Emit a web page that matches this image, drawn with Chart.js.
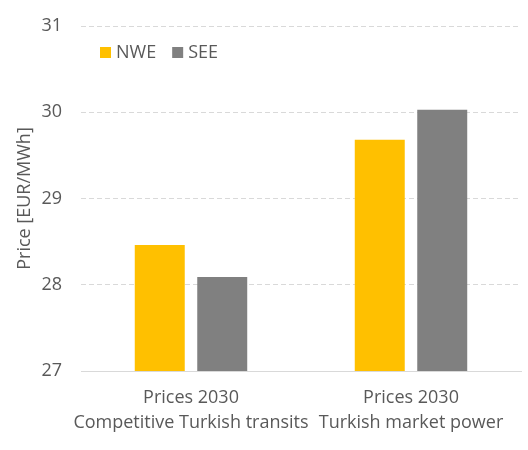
<!DOCTYPE html>
<html>
<head>
<meta charset="utf-8">
<script src="https://cdn.jsdelivr.net/npm/chart.js@4.4.1/dist/chart.umd.min.js"></script>
<style>
  html, body { margin: 0; padding: 0; background: #ffffff; }
  #wrap { width: 528px; height: 450px; position: relative; }
</style>
</head>
<body>
<div id="wrap"><canvas id="c" width="528" height="450"></canvas></div>
<script>
// Price scenarios for 2030 (EUR/MWh)
const categories = [
  ["Prices 2030", "Competitive Turkish transits"],
  ["Prices 2030", "Turkish market power"]
];
const seriesNames = ["NWE", "SEE"];
const nweValues = [28.46, 29.68];
const seeValues = [28.09, 30.03];
const yTicks = [27, 28, 29, 30, 31];

const FONT = "'Open Sans', sans-serif";
const TEXT = "#595959";
const GRID = "#d9d9d9";

Chart.defaults.font.family = FONT;
Chart.defaults.color = TEXT;

// Horizontal legend placed inside the plot area, near its top-left corner
const insideLegend = {
  id: "insideLegend",
  afterDraw(chart) {
    const ctx = chart.ctx;
    const area = chart.chartArea;
    let x = area.left + 19;
    const cy = area.top + 26;
    ctx.save();
    ctx.font = "18px " + FONT;
    ctx.textBaseline = "middle";
    ctx.textAlign = "left";
    chart.data.datasets.forEach((ds) => {
      ctx.fillStyle = ds.backgroundColor;
      ctx.fillRect(x, cy - 5, 11, 11);
      ctx.fillStyle = TEXT;
      ctx.fillText(ds.label, x + 16, cy + 1);
      x += 16 + ctx.measureText(ds.label).width + 16;
    });
    ctx.restore();
  }
};

new Chart(document.getElementById("c"), {
  type: "bar",
  data: {
    labels: categories,
    datasets: [
      { label: seriesNames[0], data: nweValues, backgroundColor: "#ffc000",
        categoryPercentage: 0.568, barPercentage: 0.8 },
      { label: seriesNames[1], data: seeValues, backgroundColor: "#808080",
        categoryPercentage: 0.568, barPercentage: 0.8 }
    ]
  },
  plugins: [insideLegend],
  options: {
    responsive: false,
    animation: false,
    layout: { padding: { left: 0, right: 7, top: 26, bottom: 0 } },
    plugins: {
      tooltip: { enabled: false },
      legend: { display: false }
    },
    scales: {
      x: {
        grid: { display: false, drawTicks: false },
        border: { display: true, color: GRID, width: 1 },
        ticks: { padding: 14, maxRotation: 0, minRotation: 0, autoSkip: false,
                 font: { size: 18, family: FONT, lineHeight: 1.39 }, color: TEXT },
        afterFit: (s) => { s.height = 450 - 371; s.paddingLeft = 0; s.paddingRight = 0; }
      },
      y: {
        min: yTicks[0],
        max: yTicks[yTicks.length - 1],
        afterBuildTicks: (s) => { s.ticks = yTicks.map(v => ({ value: v })); },
        grid: { color: GRID, lineWidth: 1, drawTicks: false },
        border: { display: false, dash: [5, 3] },
        ticks: { padding: 19, font: { size: 18, family: FONT }, color: TEXT },
        title: { display: true, text: "Price [EUR/MWh]", font: { size: 18, family: FONT }, color: TEXT, padding: { top: 14, bottom: 0 } },
        afterFit: (s) => { s.width = 81; s.paddingTop = 0; s.paddingBottom = 0; }
      }
    }
  }
});
</script>
</body>
</html>
